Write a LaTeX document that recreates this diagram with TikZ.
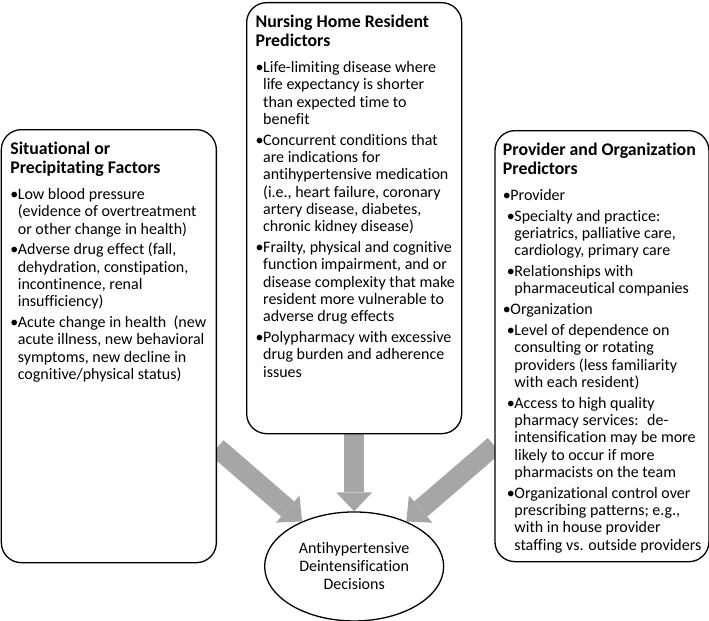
\documentclass[tikz,border=0pt]{standalone}
\usepackage{fontspec}
\setmainfont{Carlito}[Ligatures=NoCommon]
\usepackage{tikz}
\usetikzlibrary{shapes.geometric, arrows.meta, positioning, calc, backgrounds}

\definecolor{arrowgray}{HTML}{A6A6A6}

% text inside the three boxes
\newcommand{\head}[1]{{\fontsize{17.8bp}{19.5bp}\selectfont\bfseries\rule{0pt}{24.5bp}#1\par}\vspace{5bp}}
\newcommand{\itm}[1]{\par\vspace{3.5bp}\leftskip=0bp\hangindent=7.5bp\hangafter=1\noindent\makebox[7.5bp][l]{•}#1}
\newcommand{\subitm}[1]{\par\vspace{3.5bp}\leftskip=4bp\hangindent=7.5bp\hangafter=1\noindent\makebox[7.5bp][l]{•}#1}
\newcommand{\panel}[3]{\parbox[t][#1][t]{#2}{\rightskip=-8bp plus 1fil #3}}

\begin{document}
\begin{tikzpicture}[
    x=1bp, y=1bp,
    panel/.style={draw, fill=white, line width=1.3bp, rounded corners=20bp, inner xsep=9bp, inner ysep=0bp, font=\fontsize{16bp}{17.3bp}\selectfont},
    outcome/.style={draw, fill=white, ellipse, line width=1.3bp, minimum width=179bp, minimum height=109bp, inner sep=0bp, align=center, font=\fontsize{16bp}{18bp}\selectfont},
    bigarrow/.style={line width=20bp, draw=arrowgray, -{Triangle[width=36bp, length=19bp, line width=0pt]}}
]
    \useasboundingbox (0,0) rectangle (709,-621);

    \node[panel, anchor=north west] (res) at (246,-2) {\panel{431bp}{197bp}{%
        \head{Nursing Home Resident\\Predictors}
        \itm{Life-limiting disease where\\life expectancy is shorter\\than expected time to\\benefit}
        \itm{Concurrent conditions that\\are indications for\\antihypertensive medication\\(i.e., heart failure, coronary\\artery disease, diabetes,\\chronic kidney disease)}
        \itm{Frailty, physical and cognitive\\function impairment, and or\\disease complexity that make\\resident more vulnerable to\\adverse drug effects}
        \itm{Polypharmacy with excessive\\drug burden and adherence\\issues}}};

    \node[panel, below left=127bp and 29bp of res.north west] (sit) {\panel{433bp}{197bp}{%
        \head{Situational or\\Precipitating Factors}
        \itm{Low blood pressure\\(evidence of overtreatment\\or other change in health)}
        \itm{Adverse drug effect (fall,\\dehydration, constipation,\\incontinence, renal\\insufficiency)}
        \itm{Acute change in health~ (new\\acute illness, new behavioral\\symptoms, new decline in\\cognitive/physical status)}}};

    \node[panel, inner xsep=8bp, below right=128bp and 32bp of res.north east] (org) {\panel{431bp}{198bp}{%
        \head{Provider and Organization\\Predictors}
        \itm{Provider}
        \subitm{Specialty and practice:\\geriatrics, palliative care,\\cardiology, primary care}
        \subitm{Relationships with\\pharmaceutical companies}
        \itm{Organization}
        \subitm{Level of dependence on\\consulting or rotating\\providers (less familiarity\\with each resident)}
        \subitm{Access to high quality\\pharmacy services:~ de-\\intensification may be more\\likely to occur if more\\pharmacists on the team}
        \subitm{Organizational control over\\prescribing patterns; e.g.,\\with in house provider\\staffing vs. outside providers}}};

    \node[outcome, below=77bp of res] (dec) {Antihypertensive\\Deintensification\\Decisions};

    \coordinate (fromsit) at ($(sit.south east)!0.266!(sit.north east)$);
    \coordinate (fromorg) at ($(org.south west)!0.27!(org.north west)$);

    \begin{scope}[on background layer]
        \draw[bigarrow] (fromsit) -- (dec);
        \draw[bigarrow] (res) -- (dec);
        \draw[bigarrow] (fromorg) -- (dec);
    \end{scope}
\end{tikzpicture}
\end{document}
